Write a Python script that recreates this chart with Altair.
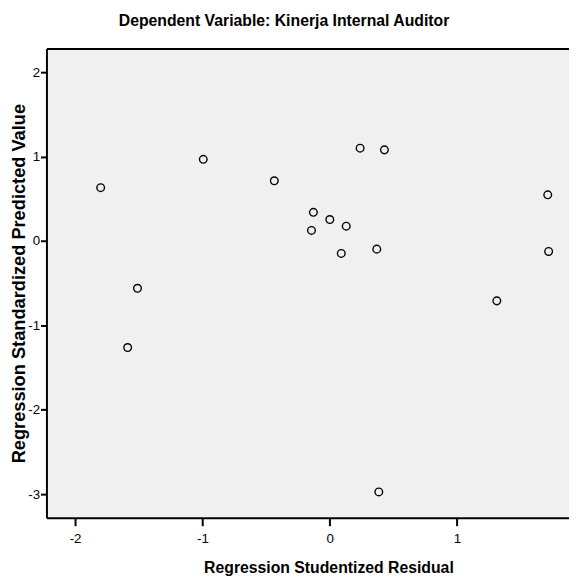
import altair as alt
import pandas as pd

residual = [-1.799, -1.510, -1.587, -0.993, -0.435, -0.128, -0.143, 0.001, 0.130,
            0.091, 0.239, 0.430, 0.370, 0.386, 1.313, 1.713, 1.720]
predicted = [0.631, -0.561, -1.263, 0.967, 0.713, 0.339, 0.125, 0.254, 0.175,
             -0.148, 1.099, 1.079, -0.097, -2.973, -0.710, 0.546, -0.125]
x_ticks = [-2, -1, 0, 1]
y_ticks = [-3, -2, -1, 0, 1, 2]

df = pd.DataFrame({"res": residual, "pred": predicted})

xscale = alt.Scale(domain=[-2.225, 1.88], nice=False, zero=False)
yscale = alt.Scale(domain=[-3.28, 2.28], nice=False, zero=False)

LABEL_FONT = "Liberation Sans"
TITLE_FONT = "Liberation Sans"
LABEL_EXPR = "datum.value < 0 ? '-' + abs(datum.value) : '' + datum.value"

y_axis = alt.Axis(
    values=y_ticks, grid=False, tickSize=6, tickWidth=2, tickColor="black",
    domainColor="black", domainWidth=2, labelFont=LABEL_FONT, labelFontSize=13.5,
    labelColor="black", labelPadding=1, labelExpr=LABEL_EXPR,
    title="Regression Standardized Predicted Value",
    titleFont=TITLE_FONT, titleFontSize=18.5, titleFontWeight="bold", titleColor="black",
    titleX=-28, titleY=238, titleAngle=270, titleBaseline="middle", titleAlign="center")

points = alt.Chart(df).mark_point(
    shape="circle", filled=False, color="black", size=60, strokeWidth=1.4, opacity=1
).encode(
    x=alt.X("res:Q", scale=xscale, axis=alt.Axis(
        orient="bottom", values=x_ticks, grid=False, tickSize=8, tickWidth=2, tickColor="black",
        domainColor="black", domainWidth=2, labelFont=LABEL_FONT, labelFontSize=13.5,
        labelColor="black", labelPadding=6, labelExpr=LABEL_EXPR,
        title="Regression Studentized Residual",
        titleFont=TITLE_FONT, titleFontSize=16, titleFontWeight="bold", titleColor="black",
        titleX=286, titleY=55, titleBaseline="alphabetic", titleAlign="center")),
    y=alt.Y("pred:Q", scale=yscale, axis=y_axis),
)

topline = alt.Chart(df).mark_point(opacity=0).encode(
    x=alt.X("res:Q", scale=xscale, axis=alt.Axis(
        orient="top", labels=False, ticks=False, grid=False, title=None,
        domainColor="black", domainWidth=2)),
    y=alt.Y("pred:Q", scale=yscale, axis=y_axis),
)

chart = alt.layer(points, topline).resolve_scale(x="independent").properties(
    width=530, height=476,
    title=alt.TitleParams(
        "Dependent Variable: Kinerja Internal Auditor",
        font="Liberation Sans",
        fontSize=16, fontWeight="bold", color="black",
        anchor="middle", dx=-24, offset=20),
    autosize=alt.AutoSizeParams(type="none"),
    padding={"left": 39, "top": 37, "right": 0, "bottom": 58},
    background="white",
).configure_view(fill="#f0f0f0", strokeWidth=0)

chart.save("out.html", embed_options={"renderer": "svg", "actions": False})
